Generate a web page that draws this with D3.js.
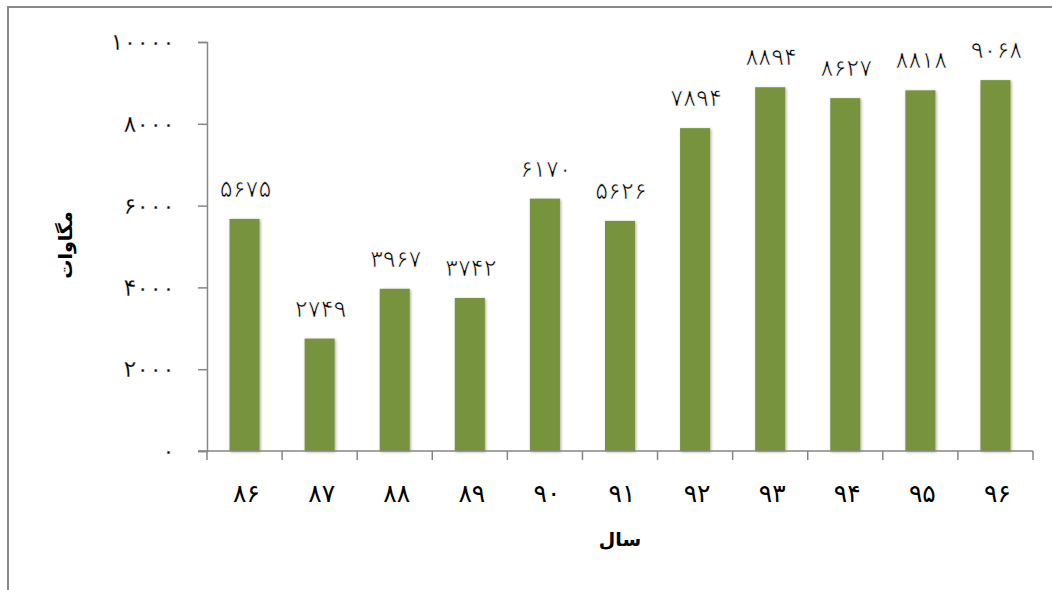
<!DOCTYPE html>
<html><head><meta charset="utf-8">
<script src="https://cdn.jsdelivr.net/npm/d3@7"></script>
<style>body{margin:0;background:#fff}svg{display:block}</style>
</head><body>
<script>
const categories = ["86","87","88","89","90","91","92","93","94","95","96"];
const values = [5675, 2749, 3967, 3742, 6170, 5626, 7894, 8894, 8627, 8818, 9068];
const yTicks = [0, 2000, 4000, 6000, 8000, 10000];
const yTitle = "مگاوات";
const xTitle = "سال";

const fa = s => String(s).replace(/[0-9]/g, d => "۰۱۲۳۴۵۶۷۸۹"[+d]);
const W = 1052, H = 590;
const m = {left: 207, right: 1033, top: 42, bottom: 451};
const svg = d3.select("body").append("svg").attr("width", W).attr("height", H);
const FONT = "'DejaVu Sans', sans-serif";

const defs = svg.append("defs");
const f = defs.append("filter").attr("id","sh").attr("x","-30%").attr("y","-10%").attr("width","160%").attr("height","120%");
f.append("feGaussianBlur").attr("in","SourceAlpha").attr("stdDeviation",1.5).attr("result","b");
f.append("feOffset").attr("in","b").attr("dx",1).attr("dy",1).attr("result","o");
f.append("feComponentTransfer").attr("in","o").attr("result","o2").append("feFuncA").attr("type","linear").attr("slope",0.35);
const mg = f.append("feMerge"); mg.append("feMergeNode").attr("in","o2"); mg.append("feMergeNode").attr("in","SourceGraphic");

// outer border
svg.append("rect").attr("x",8).attr("y",7).attr("width",W).attr("height",H)
  .attr("fill","none").attr("stroke","#888").attr("stroke-width",2);

const x = d3.scaleBand().domain(categories).range([m.left, m.right]).paddingInner(0.6).paddingOuter(0.3);
const y = d3.scaleLinear().domain([0, 10000]).range([m.bottom, m.top]);

svg.append("g").selectAll("rect").data(values).join("rect")
  .attr("x", (d,i) => x(categories[i]))
  .attr("y", d => y(d))
  .attr("width", x.bandwidth())
  .attr("height", d => y(0) - y(d))
  .attr("fill", "#77933C")
  .attr("filter","url(#sh)");

const thin = w => sel => sel.attr("stroke","#fff").attr("stroke-width",w).attr("paint-order","normal");

const xb = d3.scaleBand().domain(categories).range([m.left, m.right]);
const yAxis = svg.append("g").attr("transform", `translate(${m.left},0)`)
  .call(d3.axisLeft(y).tickValues(yTicks).tickSize(9).tickPadding(28).tickFormat(fa));
yAxis.selectAll("line,path").attr("stroke","#868686").attr("stroke-width",1.5);
yAxis.selectAll("text").attr("font-family",FONT).attr("font-size",24)
  .attr("letter-spacing",5).attr("fill","#000").attr("dx",5).call(thin(0.3));

const xAxis = svg.append("g").attr("transform", `translate(0,${m.bottom})`);
xAxis.append("line").attr("x1",m.left-9).attr("x2",m.right).attr("y1",0).attr("y2",0).attr("stroke","#868686").attr("stroke-width",1.5);
const tickPos = categories.map(c => xb(c)).concat([m.right]);
xAxis.selectAll("line.t").data(tickPos).join("line").attr("class","t")
  .attr("x1",d=>d).attr("x2",d=>d).attr("y1",0).attr("y2",9).attr("stroke","#868686").attr("stroke-width",1.5);
xAxis.selectAll("text").data(categories).join("text")
  .attr("x", c => xb(c) + xb.bandwidth()/2 + 2).attr("y", 51)
  .attr("text-anchor","middle").attr("font-family",FONT).attr("font-size",25).attr("letter-spacing",4).attr("fill","#000")
  .text(fa);

svg.append("g").selectAll("text").data(values).join("text")
  .attr("x",(d,i)=> x(categories[i]) + x.bandwidth()/2 + 1)
  .attr("y", d => y(d) - 22)
  .attr("text-anchor","middle").attr("font-family",FONT).attr("font-size",24).attr("letter-spacing",2).attr("fill","#000")
  .text(fa).call(thin(0.7));

svg.append("text").attr("transform","translate(72,245) rotate(-90)")
  .attr("text-anchor","middle").attr("font-family",FONT).attr("font-weight","bold").attr("font-size",19)
  .text(yTitle);
svg.append("text").attr("x",620).attr("y",546)
  .attr("text-anchor","middle").attr("font-family",FONT).attr("font-weight","bold").attr("font-size",19)
  .text(xTitle);
</script>
</body></html>
